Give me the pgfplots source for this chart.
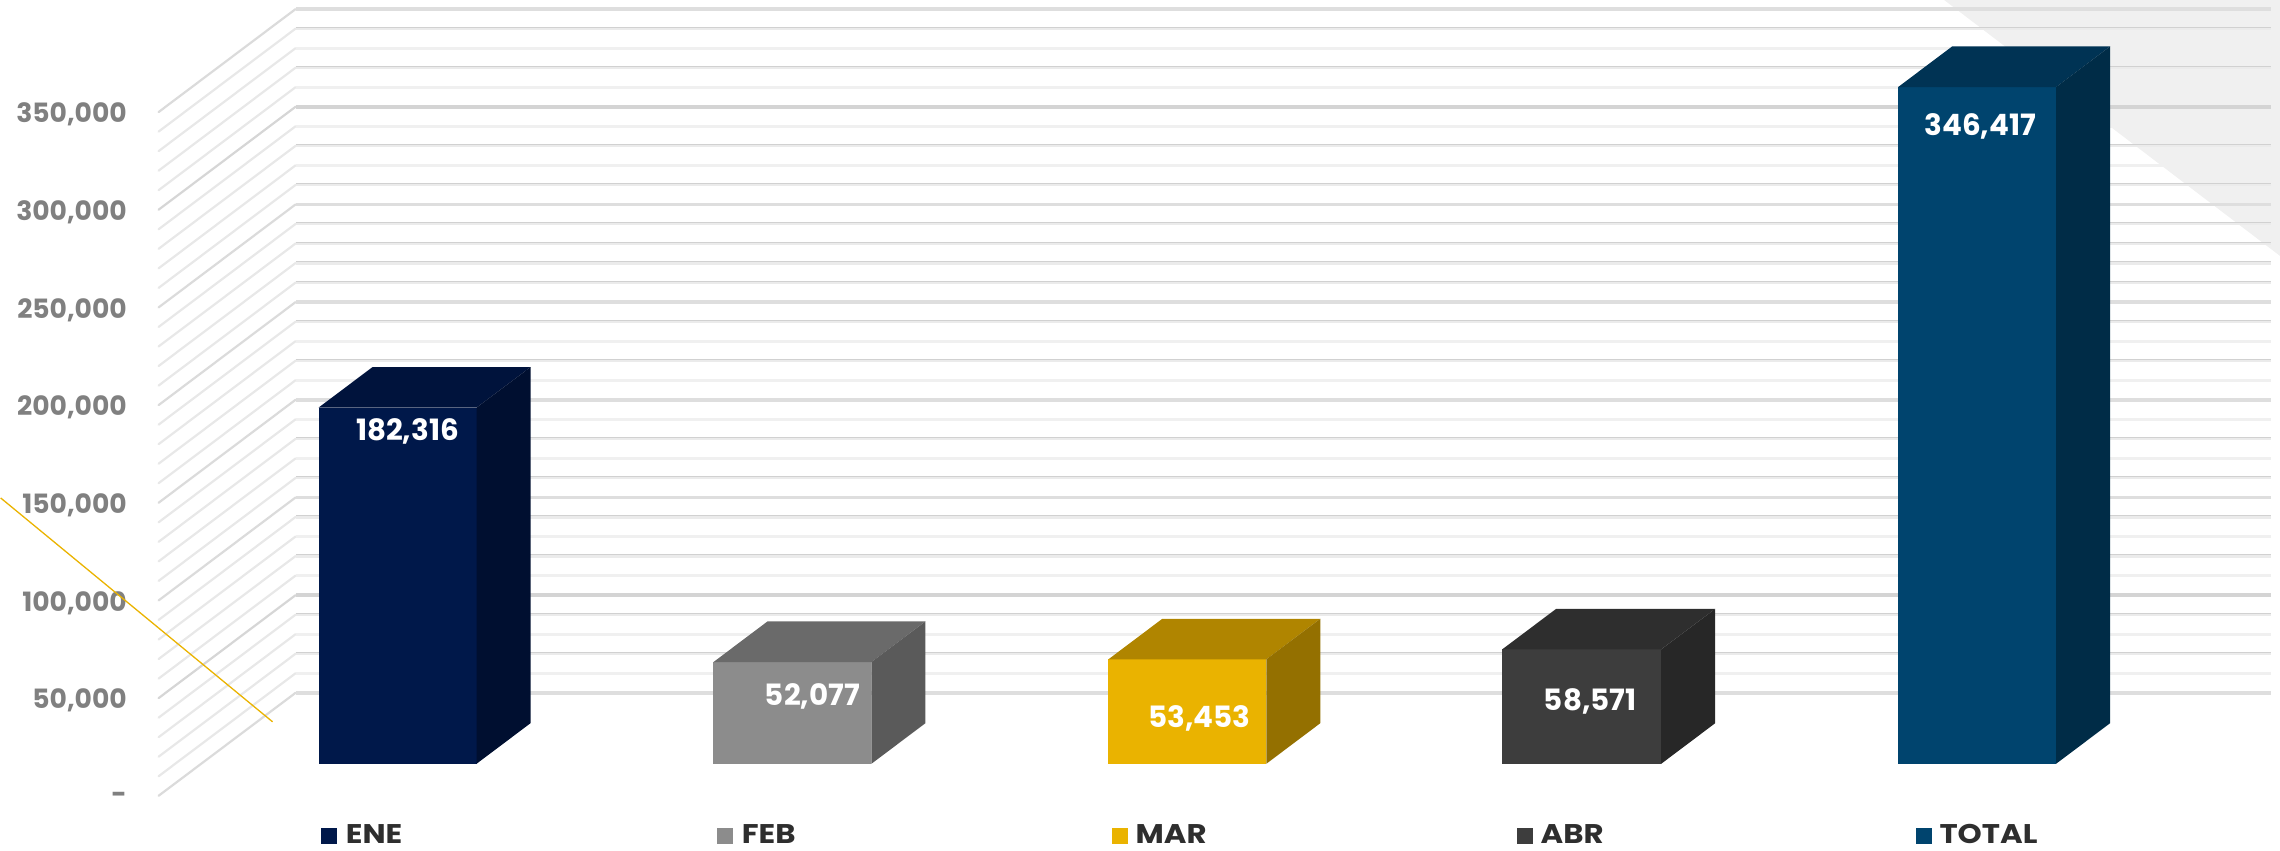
\documentclass[border=0pt]{standalone}
\usepackage{fontspec}
\setmainfont{Poppins}
\newfontfamily\legfont{Poppins}[FakeStretch=1.14]
\usepackage{pgfplots}
\pgfplotsset{compat=1.18}

\definecolor{eneF}{HTML}{00184A}\definecolor{eneT}{HTML}{00133C}\definecolor{eneS}{HTML}{000F30}
\definecolor{febF}{HTML}{8C8C8C}\definecolor{febT}{HTML}{6A6A6A}\definecolor{febS}{HTML}{5A5A5A}
\definecolor{marF}{HTML}{EAB300}\definecolor{marT}{HTML}{B08500}\definecolor{marS}{HTML}{947000}
\definecolor{abrF}{HTML}{3D3D3D}\definecolor{abrT}{HTML}{2E2E2E}\definecolor{abrS}{HTML}{272727}
\definecolor{totF}{HTML}{00446E}\definecolor{totT}{HTML}{003354}\definecolor{totS}{HTML}{002C47}

% x is in pixels of the picture, y is the bar value; the floor under the bars is y=0
% wall front edge sits 16377 below that, the back wall 52712 above its front edge
\newcommand{\wallline}[4]{% tens index, wall colour, back colour, back width
  \edef\temp{\noexpand\addplot[draw=#2, line width=1.1pt, line cap=round] coordinates {
    (158,\the\numexpr 10000*#1-16377\relax) (295,\the\numexpr 10000*#1+36335\relax)};
  \noexpand\addplot[draw=#3, line width=#4] coordinates {
    (295,\the\numexpr 10000*#1+36335\relax) (2271,\the\numexpr 10000*#1+36335\relax)};}\temp}
\newcommand{\thinline}[1]{% darker hairline on top of a pale band
  \edef\temp{\noexpand\addplot[draw=black!18, line width=0.5pt] coordinates {
    (295,\the\numexpr 10000*#1+36900\relax) (2271,\the\numexpr 10000*#1+36900\relax)};}\temp}
\newcommand{\drawbox}[6]{% x0, x1, value, front, top, side
  \addplot[fill=#4, draw=none] coordinates {(#1,0) (#2,0) (#2,#3) (#1,#3)} -- cycle;
  \addplot[fill=#5, draw=none] coordinates {(#1,#3) (#2,#3) (\the\numexpr #2+54\relax,\the\numexpr #3+20778\relax) (\the\numexpr #1+54\relax,\the\numexpr #3+20778\relax)} -- cycle;
  \addplot[fill=#6, draw=none] coordinates {(#2,0) (\the\numexpr #2+54\relax,20778) (\the\numexpr #2+54\relax,\the\numexpr #3+20778\relax) (#2,#3)} -- cycle;}
\newcommand{\swatch}[4]{% x0, colour, x text, name
  \addplot[fill=#2, draw=none] coordinates {(#1,-32753) (\the\numexpr #1+16\relax,-32753) (\the\numexpr #1+16\relax,-40942) (#1,-40942)} -- cycle;
  \node[anchor=base west, inner sep=0pt, font=\legfont\fontsize{13.5}{13.5}\selectfont\bfseries, text=black!82] at (axis cs:#3,-40942) {#4};}
\newcommand{\vallabel}[3]{% x centre, y centre, text
  \node[inner sep=0pt, font=\fontsize{14.7}{14.7}\selectfont\bfseries, text=white] at (axis cs:#1,#2) {#3};}

\begin{document}
\begin{tikzpicture}
\begin{axis}[
  scale only axis, width=1056.5pt, height=393.45pt,
  xmin=158, xmax=2271, ymin=-16377, ymax=386335,
  clip=false,
  axis line style={draw=none},
  major tick length=0pt,
  xtick=\empty,
  scaled y ticks=false,
  ytick={-16377,33623,83623,133623,183623,233623,283623,333623},
  yticklabels={{\raisebox{-1.5pt}{-}\hspace{7.5pt}},{50,000},{100,000},{150,000},{200,000},{250,000},{300,000},{350,000}},
  yticklabel style={anchor=east, inner sep=0pt, xshift=-15.75pt, yshift=-1.2pt, text=black!50,
    font=\fontsize{13.3}{13.3}\selectfont\bfseries},
]
  % picture extent
  \path (axis cs:0,390993) rectangle (axis cs:2280,-44524);
  % grey corner
  \addplot[fill=black!6, draw=none] coordinates {(1944,390993) (2280,259980) (2280,390993)} -- cycle;
  % wall and back wall lines every 10,000
  \pgfplotsforeachungrouped \i in {1,3,6,8,12,14,16,18,27,29,31,33}{\wallline{\i}{black!9}{black!6}{1.6pt}}
  \pgfplotsforeachungrouped \i in {2,4,7,9,11,13,17,19,21,22,23,24,26,28,32,34}{\wallline{\i}{black!9}{black!8}{1.5pt}\thinline{\i}}
  \pgfplotsforeachungrouped \i in {0,10,15,20,25,35}{\wallline{\i}{black!14}{black!13}{1.8pt}}
  \pgfplotsforeachungrouped \i in {5,30}{\wallline{\i}{black!16}{black!17}{1.8pt}}
  % bars
  \drawbox{318}{476}{182316}{eneF}{eneT}{eneS}
  \drawbox{713}{871}{52077}{febF}{febT}{febS}
  \drawbox{1108}{1266}{53453}{marF}{marT}{marS}
  \drawbox{1502}{1661}{58571}{abrF}{abrT}{abrS}
  \drawbox{1898}{2056}{346417}{totF}{totT}{totS}
  % value labels
  \vallabel{407}{169908}{182,316}
  \vallabel{812}{34289}{52,077}
  \vallabel{1199}{23030}{53,453}
  \vallabel{1590}{31730}{58,571}
  \vallabel{1980}{326489}{346,417}
  % legend row
  \swatch{320}{eneF}{345}{ENE}
  \swatch{717}{febF}{741}{FEB}
  \swatch{1112}{marF}{1135}{MAR}
  \swatch{1517}{abrF}{1540}{ABR}
  \swatch{1916}{totF}{1939}{TOTAL}
  % yellow accent line
  \addplot[draw=marF, line width=0.65pt] coordinates {(0,136098) (272,21494)};
\end{axis}
\end{tikzpicture}
\end{document}
